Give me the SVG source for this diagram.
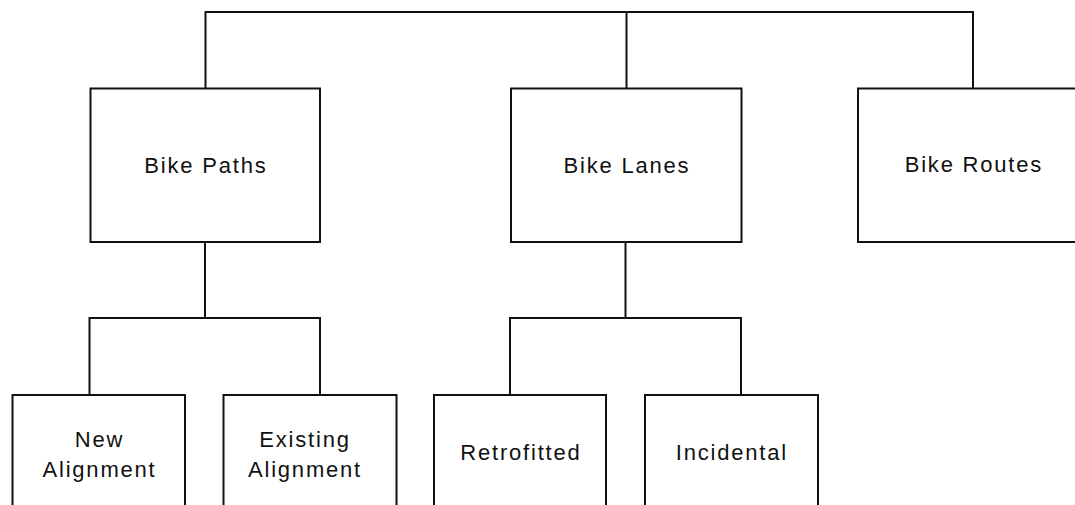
<svg xmlns="http://www.w3.org/2000/svg" width="1075" height="505" viewBox="0 0 1075 505">
<style>
.box{fill:#fff;stroke:#111;stroke-width:2}
.lbl{font-family:"Liberation Sans",Arial,sans-serif;font-size:22px;letter-spacing:1.8px;fill:#111;text-anchor:middle}
.con{fill:none;stroke:#111;stroke-width:2}
</style>
<rect width="1075" height="505" fill="#fff"/>
<g id="connectors">
<path class="con" d="M205.5,88.5 V12 H973 V88.5 M626.5,12 V88.5"/>
<path class="con" d="M205,242 V318 M89.5,395 V318 H320 V395"/>
<path class="con" d="M625.5,242 V318 M510,395 V318 H741 V395"/>
</g>
<g id="bike-paths">
<rect class="box" x="90.5" y="88.5" width="229.5" height="153.5"/>
<text class="lbl" x="205.9" y="172.5">Bike Paths</text>
</g>
<g id="bike-lanes">
<rect class="box" x="511" y="88.5" width="230.5" height="153.5"/>
<text class="lbl" x="626.9" y="172.5">Bike Lanes</text>
</g>
<g id="bike-routes">
<rect class="box" x="858" y="88.5" width="230" height="153.5"/>
<text class="lbl" x="973.9" y="172">Bike Routes</text>
</g>
<g id="new-alignment">
<rect class="box" x="12.5" y="395" width="172.5" height="120"/>
<text class="lbl" x="99.5" y="447">New</text>
<text class="lbl" x="99.5" y="476.5">Alignment</text>
</g>
<g id="existing-alignment">
<rect class="box" x="223.5" y="395" width="173" height="120"/>
<text class="lbl" x="305" y="447">Existing</text>
<text class="lbl" x="305" y="476.5">Alignment</text>
</g>
<g id="retrofitted">
<rect class="box" x="434" y="395" width="172" height="120"/>
<text class="lbl" x="520.9" y="459.5">Retrofitted</text>
</g>
<g id="incidental">
<rect class="box" x="645" y="395" width="173" height="120"/>
<text class="lbl" x="731.9" y="459.5">Incidental</text>
</g>
</svg>
